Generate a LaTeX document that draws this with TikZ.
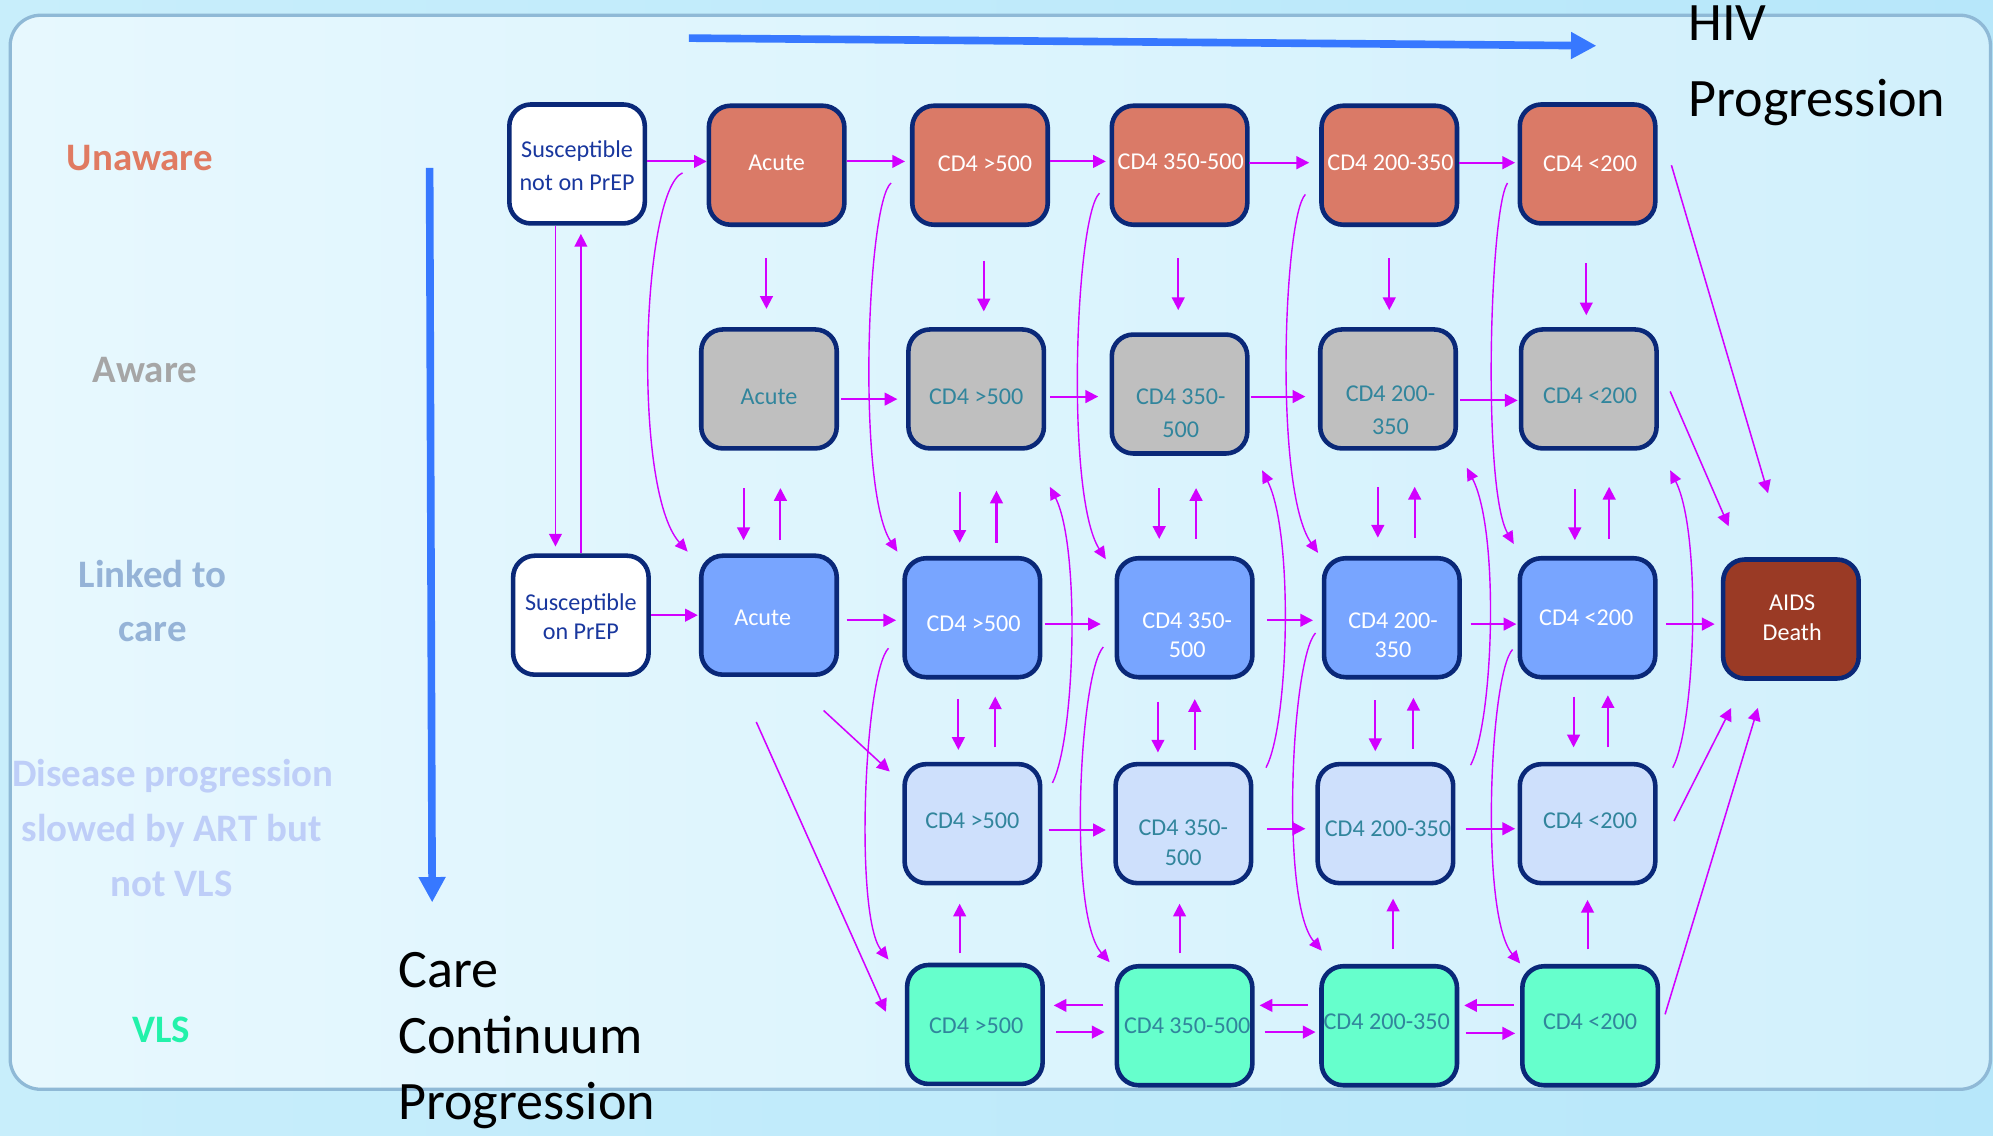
\documentclass[tikz,border=0pt]{standalone}
\usepackage{fontspec}
\setmainfont{Carlito}
\usetikzlibrary{arrows.meta,calc}
\definecolor{bgL}{RGB}{200,238,251}
\definecolor{bgR}{RGB}{183,231,250}
\definecolor{panelL}{RGB}{231,248,254}
\definecolor{panelR}{RGB}{209,240,252}
\definecolor{panelline}{RGB}{143,185,214}
\definecolor{navy}{RGB}{10,40,120}
\definecolor{unaw}{RGB}{218,122,103}
\definecolor{awr}{RGB}{191,191,191}
\definecolor{lnk}{RGB}{120,165,255}
\definecolor{slw}{RGB}{206,224,252}
\definecolor{vlsc}{RGB}{102,255,204}
\definecolor{aidsc}{RGB}{154,58,37}
\definecolor{tealtxt}{RGB}{49,133,156}
\definecolor{susc}{RGB}{25,55,158}
\definecolor{mag}{RGB}{210,0,255}
\definecolor{bigblue}{RGB}{55,120,255}
\definecolor{lblU}{RGB}{224,123,98}
\definecolor{lblA}{RGB}{166,166,166}
\definecolor{lblL}{RGB}{149,179,215}
\definecolor{lblD}{RGB}{190,206,248}
\definecolor{lblV}{RGB}{34,242,170}
\begin{document}
\begin{tikzpicture}[x=0.5pt,y=-0.5pt,
  box/.style={rectangle, rounded corners=8.5pt, draw=navy, line width=1.8pt,
    minimum width=53.3pt, minimum height=46.8pt, inner sep=0pt},
  btxt/.style={font=\fontsize{9.5}{13}\selectfont, align=center, inner sep=0pt},
  btxtB/.style={font=\fontsize{9.5}{11.5}\selectfont, align=center, inner sep=0pt},
  arr/.style={draw=mag, line width=0.8pt, -{Triangle[length=5pt,width=5pt]}},
  thin/.style={draw=mag, line width=0.6pt, -{Triangle[length=5pt,width=5pt]}},
  carr/.style={draw=mag, line width=0.55pt, -{Triangle[length=5pt,width=4.5pt]}},
  bigarr/.style={draw=bigblue, line width=3pt, -{Triangle[length=10pt,width=10pt]}},
  lbl/.style={font=\bfseries\fontsize{15.3}{21.75}\selectfont, anchor=base, inner sep=0pt},
  big/.style={font=\fontsize{21.3}{26}\selectfont, anchor=base west, inner sep=0pt, text=black}
]
\useasboundingbox (0,0) rectangle (1568,893);
\shade[left color=bgL, right color=bgR] (0,0) rectangle (1568,893);
\shade[left color=panelL, right color=panelR, rounded corners=12pt] (8,12) rectangle (1566,857);
\draw[panelline, line width=1.3pt, rounded corners=12pt] (8,12) rectangle (1566,857);

% ---------- big progression arrows ----------
\coordinate (hs) at (542,30);
\coordinate (he) at (1256,36);
\coordinate (vs) at (338,132);
\coordinate (ve) at (340,710);
\draw[bigarr] (hs) -- (he);
\draw[bigarr] (vs) -- (ve);
\node[big] (hiv1) at (1328,32) {HIV};
\node[big] (hiv2) at (1328,92) {Progression};
\node[big] (cc1) at (313,777) {Care};
\node[big] (cc2) at (313,829) {Continuum};
\node[big] (cc3) at (313,881) {Progression};

% ---------- row labels ----------
\node[lbl, text=lblU] (lu) at (110,134) {Unaware};
\node[lbl, text=lblA] (la) at (114,301) {Aware};
\node[lbl, text=lblL] (ll1) at (120,462) {Linked to};
\node[lbl, text=lblL] (ll2) at (120,505) {care};
\node[lbl, text=lblD] (ld1) at (136,619) {Disease progression};
\node[lbl, text=lblD] (ld2) at (135,662) {slowed by ART but};
\node[lbl, text=lblD] (ld3) at (135,705) {not VLS};
\node[lbl, text=lblV] (lv) at (127,820) {VLS};

% ---------- boxes ----------
% row 1 : unaware
\node[box, fill=white] (s1) at (454,129) {};
\node[box, fill=unaw] (u1) at (611,130) {};
\node[box, fill=unaw] (u2) at (771,130) {};
\node[box, fill=unaw] (u3) at (928,130) {};
\node[box, fill=unaw] (u4) at (1093,130) {};
\node[box, fill=unaw] (u5) at (1249,129) {};
% row 2 : aware
\node[box, fill=awr] (a1) at (605,306) {};
\node[box, fill=awr] (a2) at (768,306) {};
\node[box, fill=awr] (a3) at (928,310) {};
\node[box, fill=awr] (a4) at (1092,306) {};
\node[box, fill=awr] (a5) at (1250,306) {};
% row 3 : linked
\node[box, fill=white] (s2) at (457,484) {};
\node[box, fill=lnk] (l1) at (605,484) {};
\node[box, fill=lnk] (l2) at (765,486) {};
\node[box, fill=lnk] (l3) at (932,486) {};
\node[box, fill=lnk] (l4) at (1095,486) {};
\node[box, fill=lnk] (l5) at (1249,486) {};
\node[box, fill=aidsc] (ad) at (1409,487) {};
% row 4 : slowed
\node[box, fill=slw] (d2) at (765,648) {};
\node[box, fill=slw] (d3) at (931,648) {};
\node[box, fill=slw] (d4) at (1090,648) {};
\node[box, fill=slw] (d5) at (1249,648) {};
% row 5 : VLS
\node[box, fill=vlsc] (v2) at (767,806) {};
\node[box, fill=vlsc] (v3) at (932,807) {};
\node[box, fill=vlsc] (v4) at (1093,807) {};
\node[box, fill=vlsc] (v5) at (1251,807) {};

% ---------- box texts ----------
\node[btxt, text=susc] (s1t) at ($(s1)+(0,1)$) {Susceptible\\not on PrEP};
\node[btxt, text=white] (u1t) at ($(u1)+(0,-2)$) {Acute};
\node[btxt, text=white] (u2t) at ($(u2)+(4,-1)$) {CD4 >500};
\node[btxt, text=white] (u3t) at ($(u3)+(1,-3)$) {CD4 350-500};
\node[btxt, text=white] (u4t) at ($(u4)+(1,-2)$) {CD4 200-350};
\node[btxt, text=white] (u5t) at ($(u5)+(2,0)$) {CD4 <200};

\node[btxt, text=tealtxt] (a1t) at ($(a1)+(0,6)$) {Acute};
\node[btxt, text=tealtxt] (a2t) at ($(a2)+(0,6)$) {CD4 >500};
\node[btxt, text=tealtxt] (a3t) at ($(a3)+(1,15)$) {CD4 350-\\500};
\node[btxt, text=tealtxt] (a4t) at ($(a4)+(2,17)$) {CD4 200-\\350};
\node[btxt, text=tealtxt] (a5t) at ($(a5)+(1,5)$) {CD4 <200};

\node[btxtB, text=susc] (s2t) at ($(s2)+(0,1)$) {Susceptible\\on PrEP};
\node[btxtB, text=white] (l1t) at ($(l1)+(-5,2)$) {Acute};
\node[btxtB, text=white] (l2t) at ($(l2)+(1,5)$) {CD4 >500};
\node[btxtB, text=white] (l3t) at ($(l3)+(2,14)$) {CD4 350-\\500};
\node[btxtB, text=white] (l4t) at ($(l4)+(1,14)$) {CD4 200-\\350};
\node[btxtB, text=white] (l5t) at ($(l5)+(-1,0)$) {CD4 <200};
\node[btxtB, text=white] (adt) at ($(ad)+(1,-1)$) {AIDS\\Death};

\node[btxtB, text=tealtxt] (d2t) at ($(d2)+(0,-2)$) {CD4 >500};
\node[btxtB, text=tealtxt] (d3t) at ($(d3)+(0,15)$) {CD4 350-\\500};
\node[btxtB, text=tealtxt] (d4t) at ($(d4)+(2,4)$) {CD4 200-350};
\node[btxtB, text=tealtxt] (d5t) at ($(d5)+(2,-2)$) {CD4 <200};

\node[btxtB, text=tealtxt] (v2t) at ($(v2)+(1,1)$) {CD4 >500};
\node[btxtB, text=tealtxt] (v3t) at ($(v3)+(2,0)$) {CD4 350-500};
\node[btxtB, text=tealtxt] (v4t) at ($(v4)+(-2,-3)$) {CD4 200-350};
\node[btxtB, text=tealtxt] (v5t) at ($(v5)+(0,-3)$) {CD4 <200};

% ---------- horizontal arrows ----------
\draw[arr] ($(s1)+(55,-2)$) -- ($(u1)+(-55,-3)$);
\draw[arr] ($(u1)+(55,-3)$) -- ($(u2)+(-59,-3)$);
\draw[arr] ($(u2)+(55,-3)$) -- ($(u3)+(-58,-3)$);
\draw[arr] ($(u3)+(55,-2)$) -- ($(u4)+(-63,-2)$);
\draw[arr] ($(u4)+(55,-2)$) -- ($(u5)+(-57,-1)$);

\draw[arr] ($(a1)+(57,8)$) -- ($(a2)+(-62,8)$);
\draw[arr] ($(a2)+(58,6)$) -- ($(a3)+(-64,2)$);
\draw[arr] ($(a3)+(56,2)$) -- ($(a4)+(-65,6)$);
\draw[arr] ($(a4)+(57,9)$) -- ($(a5)+(-56,9)$);

\draw[arr] ($(s2)+(55,0)$) -- ($(l1)+(-56,0)$);
\draw[arr] ($(l1)+(61,4)$) -- ($(l2)+(-60,2)$);
\draw[arr] ($(l2)+(57,5)$) -- ($(l3)+(-66,5)$);
\draw[arr] ($(l3)+(65,2)$) -- ($(l4)+(-62,2)$);
\draw[arr] ($(l4)+(62,5)$) -- ($(l5)+(-56,5)$);
\draw[arr] ($(l5)+(62,5)$) -- ($(ad)+(-60,4)$);

\draw[arr] ($(d2)+(60,5)$) -- ($(d3)+(-61,5)$);
\draw[arr] ($(d3)+(66,4)$) -- ($(d4)+(-63,4)$);
\draw[arr] ($(d4)+(63,4)$) -- ($(d5)+(-57,4)$);

\draw[arr] ($(v3)+(-64,-16)$) -- ($(v2)+(62,-15)$);
\draw[arr] ($(v2)+(64,6)$) -- ($(v3)+(-63,5)$);
\draw[arr] ($(v4)+(-64,-16)$) -- ($(v3)+(59,-16)$);
\draw[arr] ($(v3)+(63,5)$) -- ($(v4)+(-58,5)$);
\draw[arr] ($(v5)+(-60,-16)$) -- ($(v4)+(59,-16)$);
\draw[arr] ($(v4)+(60,6)$) -- ($(v5)+(-59,6)$);

% ---------- vertical arrows ----------
\draw[arr] ($(u1)+(-8,73)$) -- ($(a1)+(-2,-63)$);
\draw[arr] ($(u2)+(3,75)$) -- ($(a2)+(6,-61)$);
\draw[arr] ($(u3)+(-1,73)$) -- ($(a3)+(-1,-66)$);
\draw[arr] ($(u4)+(0,73)$) -- ($(a4)+(1,-62)$);
\draw[arr] ($(u5)+(-1,78)$) -- ($(a5)+(-2,-58)$);

\draw[arr] ($(a1)+(-20,78)$) -- ($(l1)+(-20,-59)$);
\draw[arr] ($(l1)+(9,-59)$) -- ($(a1)+(9,78)$);
\draw[arr] ($(a2)+(-13,81)$) -- ($(l2)+(-10,-59)$);
\draw[arr] ($(l2)+(19,-59)$) -- ($(a2)+(16,80)$);
\draw[arr] ($(a3)+(-16,74)$) -- ($(l3)+(-20,-62)$);
\draw[arr] ($(l3)+(9,-62)$) -- ($(a3)+(13,74)$);
\draw[arr] ($(a4)+(-8,77)$) -- ($(l4)+(-11,-63)$);
\draw[arr] ($(l4)+(18,-63)$) -- ($(a4)+(21,77)$);
\draw[arr] ($(a5)+(-11,79)$) -- ($(l5)+(-10,-61)$);
\draw[arr] ($(l5)+(17,-62)$) -- ($(a5)+(16,77)$);

\draw[arr] ($(l2)+(-11,64)$) -- ($(d2)+(-11,-58)$);
\draw[arr] ($(d2)+(18,-60)$) -- ($(l2)+(18,62)$);
\draw[arr] ($(l3)+(-21,66)$) -- ($(d3)+(-20,-56)$);
\draw[arr] ($(d3)+(9,-58)$) -- ($(l3)+(8,64)$);
\draw[arr] ($(l4)+(-13,65)$) -- ($(d4)+(-8,-57)$);
\draw[arr] ($(d4)+(22,-59)$) -- ($(l4)+(17,63)$);
\draw[arr] ($(l5)+(-11,62)$) -- ($(d5)+(-11,-60)$);
\draw[arr] ($(d5)+(16,-60)$) -- ($(l5)+(16,61)$);

\draw[arr] ($(v2)+(-12,-56)$) -- ($(d2)+(-10,63)$);
\draw[arr] ($(v3)+(-4,-57)$) -- ($(d3)+(-3,63)$);
\draw[arr] ($(v4)+(3,-60)$) -- ($(d4)+(6,59)$);
\draw[arr] ($(v5)+(-2,-60)$) -- ($(d5)+(0,60)$);

\draw[thin] ($(s1)+(-17,49)$) -- ($(s2)+(-20,-54)$);
\draw[thin] ($(s2)+(0,-49)$) -- ($(s1)+(3,55)$);

% ---------- diagonal arrows ----------
\draw[thin] ($(l1)+(43,75)$) -- ($(d2)+(-65,-41)$);
\draw[thin] ($(l1)+(-10,84)$) -- ($(v2)+(-70,-10)$);
\draw[thin] ($(u5)+(66,1)$) -- ($(ad)+(-18,-99)$);
\draw[thin] ($(a5)+(64,2)$) -- ($(ad)+(-49,-73)$);
\draw[thin] ($(d5)+(68,-2)$) -- ($(ad)+(-47,70)$);
\draw[thin] ($(v5)+(59,-9)$) -- ($(ad)+(-26,70)$);

% ---------- curved arrows: unaware -> linked ----------
\draw[carr] ($(u1)+(-74,6)$) .. controls +(-32,14) and +(-44,-49) .. ($(l1)+(-64,-50)$);
\draw[carr] ($(u2)+(-70,14)$) .. controls +(-19,16) and +(-32,-49) .. ($(l2)+(-59,-52)$);
\draw[carr] ($(u3)+(-63,22)$) .. controls +(-19,18) and +(-32,-50) .. ($(l3)+(-62,-46)$);
\draw[carr] ($(u4)+(-66,23)$) .. controls +(-17,17) and +(-35,-50) .. ($(l4)+(-58,-51)$);
\draw[carr] ($(u5)+(-63,15)$) .. controls +(-14,21) and +(-25,-43) .. ($(l5)+(-58,-58)$);

% ---------- curved arrows: slowed -> aware ----------
\draw[carr] ($(d2)+(63,-32)$) .. controls +(18,-36) and +(24,47) .. ($(a2)+(58,77)$);
\draw[carr] ($(d3)+(65,-44)$) .. controls +(18,-34) and +(25,50) .. ($(a3)+(65,60)$);
\draw[carr] ($(d4)+(67,-46)$) .. controls +(18,-34) and +(26,50) .. ($(a4)+(62,62)$);
\draw[carr] ($(d5)+(67,-44)$) .. controls +(18,-34) and +(25,50) .. ($(a5)+(64,64)$);

% ---------- curved arrows: linked -> VLS ----------
\draw[carr] ($(l2)+(-66,24)$) .. controls +(-19,20) and +(-27,-35) .. ($(v2)+(-68,-51)$);
\draw[carr] ($(l3)+(-64,23)$) .. controls +(-19,21) and +(-33,-37) .. ($(v3)+(-59,-50)$);
\draw[carr] ($(l4)+(-60,12)$) .. controls +(-19,20) and +(-33,-38) .. ($(v4)+(-53,-59)$);
\draw[carr] ($(l5)+(-59,25)$) .. controls +(-18,19) and +(-32,-38) .. ($(v5)+(-55,-49)$);
\end{tikzpicture}
\end{document}
